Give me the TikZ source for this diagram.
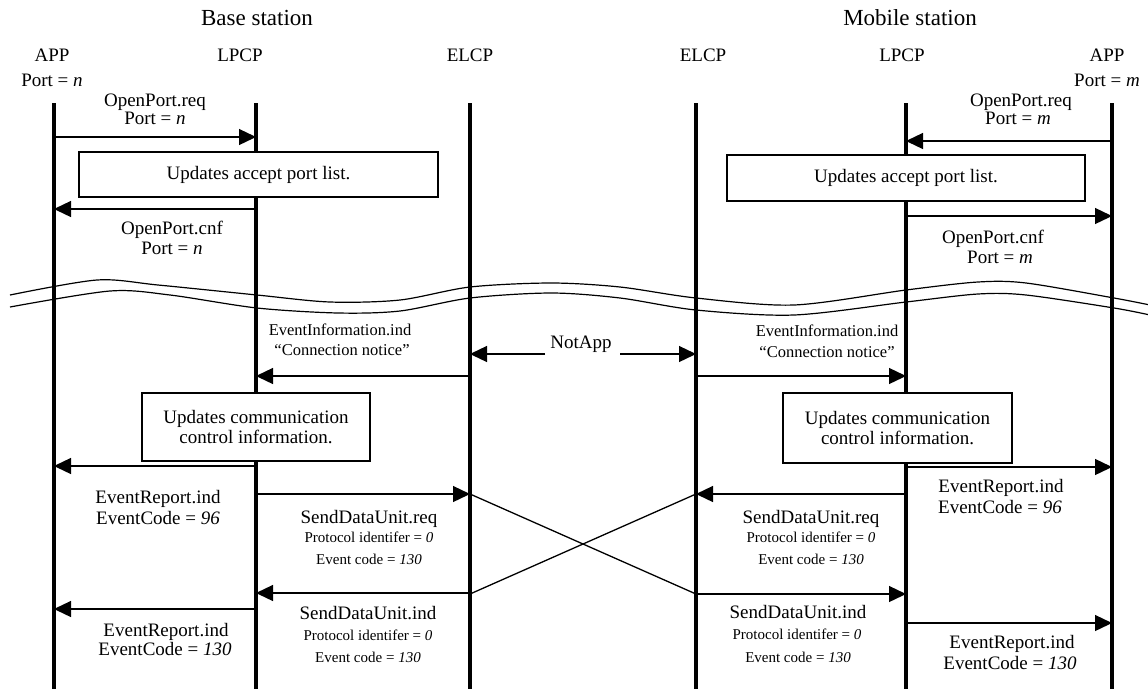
\documentclass[tikz,border=0pt]{standalone}
\usepackage{fontspec}
\setmainfont{Liberation Serif}
\usetikzlibrary{arrows.meta}
\begin{document}
\begin{tikzpicture}[x=1pt,y=-1pt,
  lifeline/.style={line width=3.5pt},
  msg/.style={line width=1.3pt,-{Triangle[length=17pt,width=16pt]}},
  plain/.style={line width=1.3pt},
  wave/.style={line width=1.2pt},
  actbox/.style={draw,line width=1.2pt,fill=white,align=center,inner sep=0pt,
    font=\fontsize{19}{20}\selectfont},
  lbl/.style={anchor=base,inner sep=0pt},
  big/.style={lbl,font=\fontsize{23}{26}\selectfont},
  txt/.style={lbl,font=\fontsize{19}{21}\selectfont},
  mid/.style={lbl,font=\fontsize{16.5}{19}\selectfont},
  small/.style={lbl,font=\fontsize{15}{17}\selectfont},
]
\useasboundingbox (0,0) rectangle (1148,689);

% lifeline tops
\coordinate (appL)  at (54,103);
\coordinate (lpcpL) at (256,103);
\coordinate (elcpL) at (470,103);
\coordinate (elcpR) at (696,103);
\coordinate (lpcpR) at (906,103);
\coordinate (appR)  at (1112,103);

% headers
\node[big] (hbase) at (257,25) {Base station};
\node[big] (hmob)  at (910,25) {Mobile station};

\node[txt] (tappL)  at (52,61)   {APP};
\node[txt] (tlpcpL) at (240,61)  {LPCP};
\node[txt] (telcpL) at (470,61)  {ELCP};
\node[txt] (telcpR) at (703,61)  {ELCP};
\node[txt] (tlpcpR) at (902,61)  {LPCP};
\node[txt] (tappR)  at (1107,61) {APP};
\node[txt] (pn)     at (52,86)   {Port = \textit{n}};
\node[txt] (pm)     at (1107,86) {Port = \textit{m}};

% lifelines
\foreach \l in {appL,lpcpL,elcpL,elcpR,lpcpR,appR}
  \draw[lifeline] (\l) -- (\l |- 0,689);

% break in the time axis
\draw[wave] plot[smooth,tension=0.5] coordinates {(10,295) (97,280) (158,285) (257,295) (330,302) (400,300) (470,287) (551,283) (620,287) (696,298) (794,305) (906,290) (978,282) (1026,283) (1114,298) (1150,305)};
\draw[wave] plot[smooth,tension=0.5] coordinates {(10,307) (110,291) (170,295) (257,308) (338,313) (400,311) (470,298) (551,293) (620,298) (696,310) (794,315) (906,302) (978,294) (1026,295) (1114,308) (1150,315)};

% port opening, base station side
\node[txt] (oreqL1) at (155,106) {OpenPort.req};
\node[txt] (oreqL2) at (155,124) {Port = \textit{n}};
\draw[msg] (appL |- 0,137) -- (lpcpL |- 0,137);
\node[actbox,minimum width=359pt,minimum height=45pt] (acceptL) at (258.5,174.5) {Updates accept port list.};
\draw[msg] (lpcpL |- 0,209) -- (appL |- 0,209);
\node[txt] (ocnfL1) at (172,234) {OpenPort.cnf};
\node[txt] (ocnfL2) at (172,254) {Port = \textit{n}};

% port opening, mobile station side
\node[txt] (oreqR1) at (1021,106) {OpenPort.req};
\node[txt] (oreqR2) at (1018,124) {Port = \textit{m}};
\draw[msg] (appR |- 0,141) -- (lpcpR |- 0,141);
\node[actbox,minimum width=358pt,minimum height=46pt] (acceptR) at (906,178) {Updates accept port list.};
\draw[msg] (lpcpR |- 0,216) -- (appR |- 0,216);
\node[txt] (ocnfR1) at (993,243) {OpenPort.cnf};
\node[txt] (ocnfR2) at (1000,263) {Port = \textit{m}};

% connection notice
\node[mid] (eiL1) at (340,335.5) {EventInformation.ind};
\node[mid] (eiL2) at (342,355.5) {“Connection notice”};
\draw[msg] (elcpL |- 0,376) -- (lpcpL |- 0,376);
\node[mid] (eiR1) at (827,336.5) {EventInformation.ind};
\node[mid] (eiR2) at (827,357.5) {“Connection notice”};
\draw[msg] (elcpR |- 0,376) -- (lpcpR |- 0,376);

\node[txt] (notapp) at (581,348) {NotApp};
\coordinate (naL) at (545,354);
\coordinate (naR) at (620,354);
\draw[msg] (naL) -- (elcpL |- naL);
\draw[msg] (naR) -- (elcpR |- naR);

% communication control boxes
\node[actbox,minimum width=228pt,minimum height=68pt] (commL) at (256,427) {Updates communication\\control information.};
\node[actbox,minimum width=229pt,minimum height=70pt] (commR) at (897.5,428) {Updates communication\\control information.};

% event reports and data units, base station side
\draw[msg] (lpcpL |- 0,466) -- (appL |- 0,466);
\node[txt] (erL1) at (158,503) {EventReport.ind};
\node[txt] (erL2) at (158,524) {EventCode = \textit{96}};
\draw[msg] (lpcpL |- 0,494) -- (elcpL |- 0,494);
\node[txt]   (sreqL1) at (369,523) {SendDataUnit.req};
\node[small] (sreqL2) at (369,542) {Protocol identifer = \textit{0}};
\node[small] (sreqL3) at (369,564) {Event code = \textit{130}};
\draw[msg] (elcpL |- 0,593) -- (lpcpL |- 0,593);
\draw[msg] (lpcpL |- 0,609) -- (appL |- 0,609);
\node[txt]   (sindL1) at (368,619) {SendDataUnit.ind};
\node[small] (sindL2) at (368,640) {Protocol identifer = \textit{0}};
\node[small] (sindL3) at (368,662) {Event code = \textit{130}};
\node[txt] (er2L1) at (166,636) {EventReport.ind};
\node[txt] (er2L2) at (165,655) {EventCode = \textit{130}};

% event reports and data units, mobile station side
\draw[msg] (lpcpR |- 0,467) -- (appR |- 0,467);
\node[txt] (erR1) at (1001,492) {EventReport.ind};
\node[txt] (erR2) at (1000,513) {EventCode = \textit{96}};
\draw[msg] (lpcpR |- 0,494) -- (elcpR |- 0,494);
\node[txt]   (sreqR1) at (811,523) {SendDataUnit.req};
\node[small] (sreqR2) at (811,542) {Protocol identifer = \textit{0}};
\node[small] (sreqR3) at (811,564) {Event code = \textit{130}};
\draw[msg] (elcpR |- 0,594) -- (lpcpR |- 0,594);
\node[txt]   (sindR1) at (798,618) {SendDataUnit.ind};
\node[small] (sindR2) at (797,639) {Protocol identifer = \textit{0}};
\node[small] (sindR3) at (798,662) {Event code = \textit{130}};
\draw[msg] (lpcpR |- 0,623) -- (appR |- 0,623);
\node[txt] (er2R1) at (1012,648) {EventReport.ind};
\node[txt] (er2R2) at (1010,669) {EventCode = \textit{130}};

% transfer across the radio link
\draw[plain] (elcpL |- 0,494) -- (elcpR |- 0,594);
\draw[plain] (elcpR |- 0,494) -- (elcpL |- 0,594);
\end{tikzpicture}
\end{document}
